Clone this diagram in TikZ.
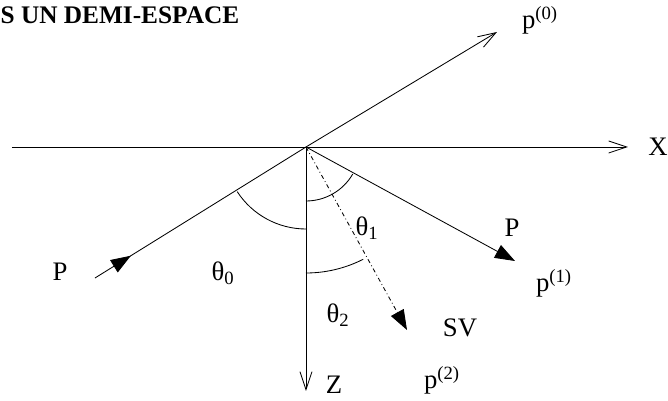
\documentclass[tikz,border=0pt]{standalone}
\usepackage{fontspec}
\setmainfont{Liberation Serif}
\usetikzlibrary{arrows.meta,decorations.markings}

\tikzset{
	ray/.style={line width=0.6pt},
	axis/.style={line width=0.6pt,-{Straight Barb[length=4.5mm,width=3mm]}},
	wave/.style={line width=0.6pt,-{Triangle[length=5mm,width=3.6mm]}},
	lbl/.style={font=\fontsize{19}{22}\selectfont,inner sep=0pt},
}

\begin{document}
\begin{tikzpicture}[scale=1.0]
	\useasboundingbox (-7.65,-6.35) rectangle (9.05,3.675);
	% points of the figure
	\coordinate (O) at (0,0);
	\coordinate (Xa) at (-7.35,0);
	\coordinate (Xb) at (8.05,0);
	\coordinate (Zb) at (0,-6.1);
	\coordinate (Pin) at (-5.275,-3.275);
	\coordinate (R0) at (4.775,2.875);
	\coordinate (R1) at (5.225,-2.85);
	\coordinate (R2) at (2.525,-4.575);
	% axes
	\draw[axis] (Xa)--(Xb);
	\draw[axis] (O)--(Zb);
	% incident wave and p(0)
	\draw[ray,postaction={decorate},decoration={markings,
		mark=at position 0.17 with {\arrow{Triangle[length=5mm,width=3.6mm]}}}] (Pin)--(O);
	\draw[axis] (O)--(R0);
	% transmitted waves
	\draw[wave] (O)--(R1);
	\draw[wave,dash dot] (O)--(R2);
	% angles
	\draw[ray] (O) ++(213:2.05) arc[start angle=213,end angle=270,radius=2.05];
	\draw[ray] (O) ++(270:1.35) arc[start angle=270,end angle=330,radius=1.35];
	\draw[ray] (O) ++(270:3.15) arc[start angle=270,end angle=297,radius=3.15];
	% labels
	\node[anchor=west,inner sep=0pt,font=\fontsize{18}{20}\selectfont\bfseries] (titre) at (-7.64,3.3) {S UN DEMI-ESPACE};
	\node[lbl] (lx) at (8.8,0) {X};
	\node[lbl] (lz) at (0.7,-5.95) {Z};
	\node[lbl] (lpin) at (-6.15,-3.125) {P};
	\node[lbl] (lp0) at (5.85,3.175) {p\textsuperscript{(0)}};
	\node[lbl] (lp) at (5.15,-2.025) {P};
	\node[lbl] (lp1) at (6.2,-3.4) {p\textsuperscript{(1)}};
	\node[lbl] (lsv) at (3.85,-4.525) {SV};
	\node[lbl] (lp2) at (3.4,-5.825) {p\textsuperscript{(2)}};
	\node[lbl] (lt0) at (-2.075,-3.15) {θ\textsubscript{0}};
	\node[lbl] (lt1) at (1.525,-2.025) {θ\textsubscript{1}};
	\node[lbl] (lt2) at (0.8,-4.2) {θ\textsubscript{2}};
\end{tikzpicture}
\end{document}
